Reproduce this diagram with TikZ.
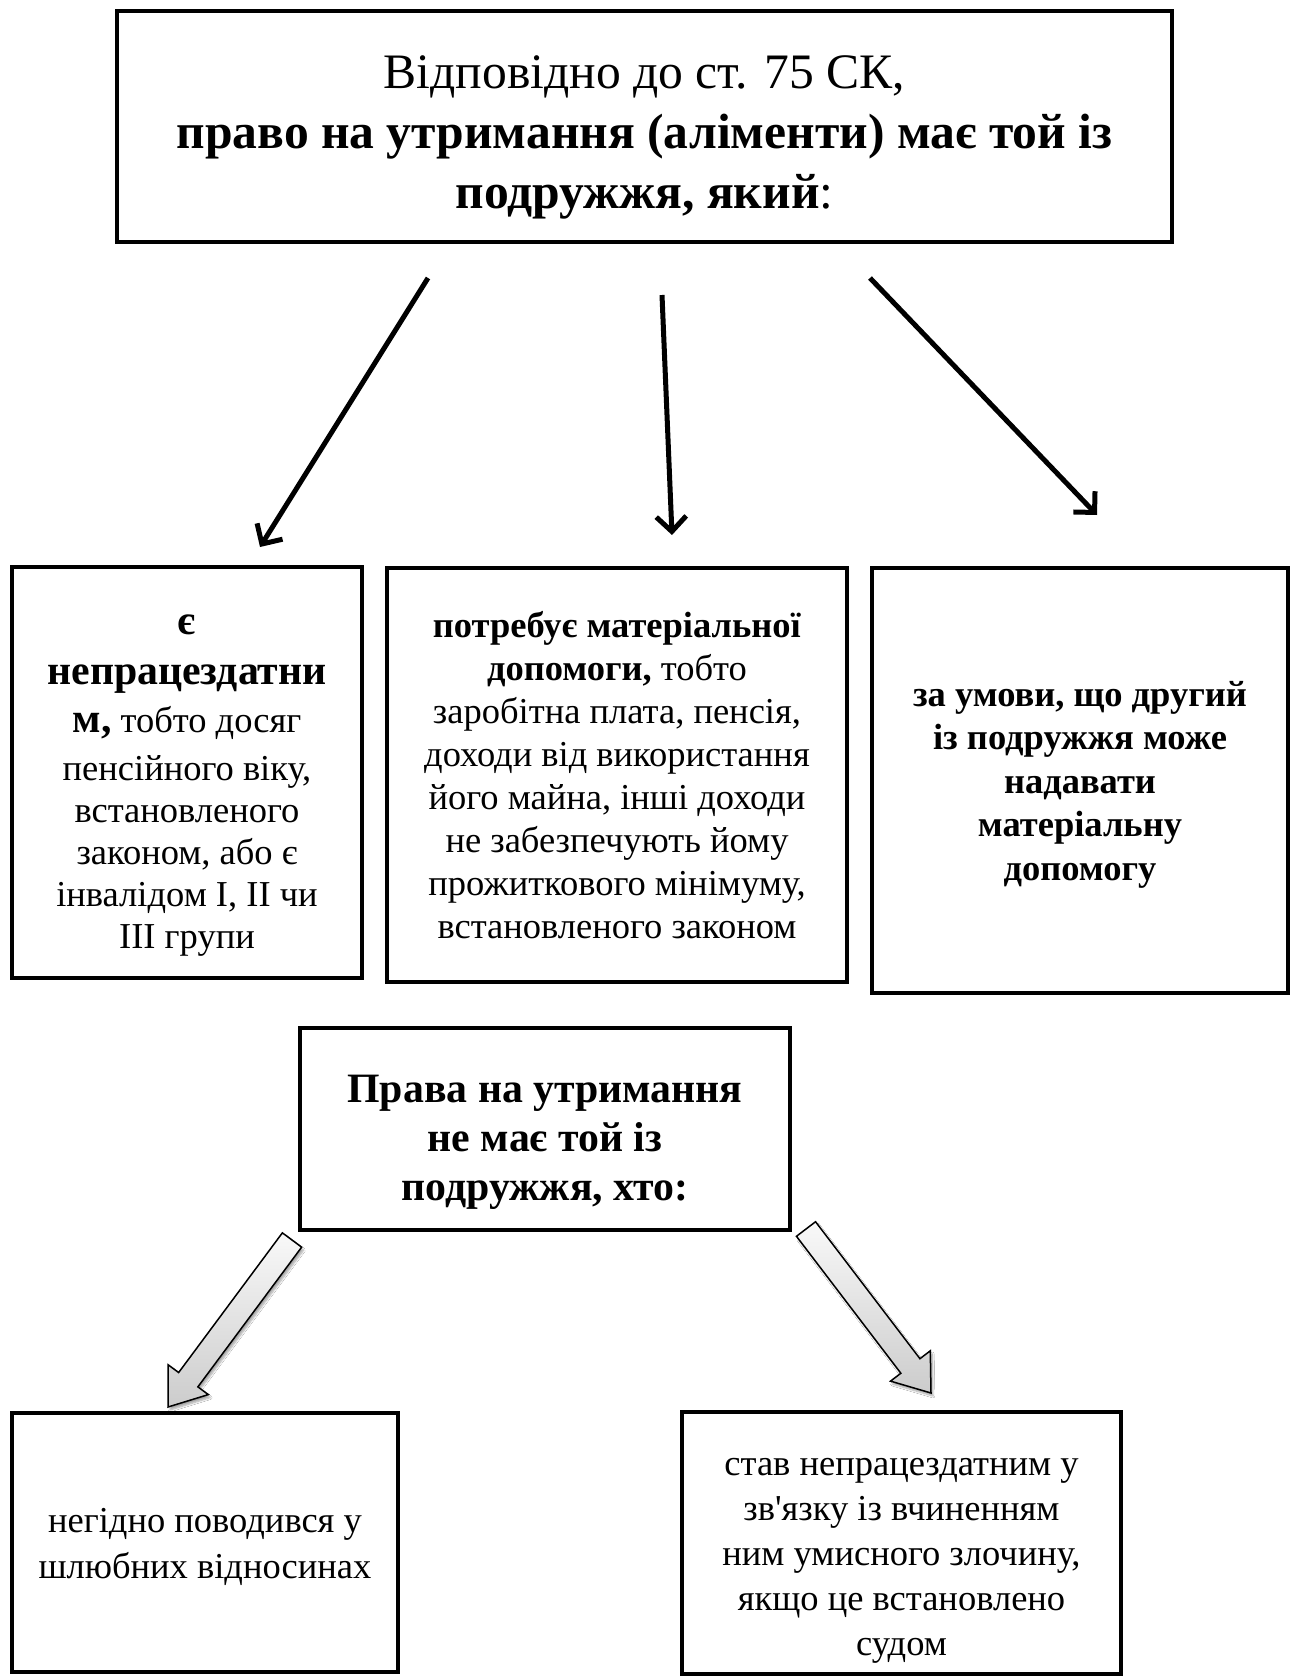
\documentclass[tikz,border=0pt]{standalone}
\usepackage{fontspec}
\setmainfont{Liberation Serif}
\usetikzlibrary{arrows.meta,calc,shadows.blur}
\newcommand\blockarr[2]{%
  \coordinate (#1-h) at ($(#2)!34pt!(#1)$);
  \draw[blockarrow] ($(#1)!12pt!90:(#2)$) -- ($(#1-h)!12pt!90:(#2)$) -- ($(#1-h)!25pt!90:(#2)$) -- (#2)
    -- ($(#1-h)!25pt!-90:(#2)$) -- ($(#1-h)!12pt!-90:(#2)$) -- ($(#1)!12pt!-90:(#2)$) -- cycle;}
\begin{document}
\begin{tikzpicture}[x=1pt,y=-1pt,
  box/.style={draw, line width=4.5pt, inner sep=0pt},
  txt/.style={inner sep=0pt, align=center},
  conn/.style={line width=5pt, -{Straight Barb[length=15pt,width=30pt]}},
  blockarrow/.style={draw=black, line width=1.5pt, top color=gray!5, bottom color=gray!40,
    blur shadow={shadow xshift=2pt, shadow yshift=-3pt, shadow blur steps=6, shadow opacity=35}}
]
\useasboundingbox (0,0) rectangle (1290,1677);
\fill[white] (0,0) rectangle (1290,1677);

% top box
\node[box, minimum width=1055pt, minimum height=231pt] (top) at (644.5,126.5) {};
\node[txt, font=\fontsize{49.6}{60}\selectfont] (ttop) at ($(top.center)+(0,11)$)
  {Відповідно до ст. 75 СК,\\ \textbf{право на утримання (аліменти) має той із}\\ \textbf{подружжя, який}:};

% second row
\node[box, minimum width=350pt, minimum height=411pt] (boxa) at (187,772.5) {};
\node[txt, font=\fontsize{36.5}{42}\selectfont] (ta) at ($(boxa.center)+(0,13)$)
  {{\fontsize{41.8}{49}\selectfont\bfseries є}\\[8pt]
   {\fontsize{41.8}{49}\selectfont\bfseries непрацездатни}\\[6pt]
   {\fontsize{41.8}{49}\selectfont\bfseries м,} тобто досяг\\[6pt]
   пенсійного віку,\\ встановленого\\ законом, або є\\ інвалідом І, ІІ чи\\ ІІІ групи};

\node[box, minimum width=460pt, minimum height=414pt] (boxb) at (617,775) {};
\node[txt, font=\fontsize{36.5}{43}\selectfont] (tb) at (boxb.center)
  {\textbf{потребує матеріальної}\\ \textbf{допомоги,} тобто\\ заробітна плата, пенсія,\\ доходи від використання\\
   його майна, інші доходи\\ не забезпечують йому\\ прожиткового мінімуму,\\ встановленого законом};

\node[box, minimum width=416pt, minimum height=425pt] (boxc) at (1080,780.5) {};
\node[txt, font=\fontsize{36.5}{43.5}\selectfont\bfseries] (tc) at ($(boxc.center)+(0,4)$)
  {за умови, що другий\\ із подружжя може\\ надавати\\ матеріальну\\ допомогу};

% connectors top
\coordinate (a1s) at (428,278); \coordinate (a1t) at (260,547);
\coordinate (a2s) at (662,295); \coordinate (a2t) at (672,535);
\coordinate (a3s) at (870,278); \coordinate (a3t) at (1097,515);
\draw[conn] (a1s) -- (a1t);
\draw[conn] (a2s) -- (a2t);
\draw[conn] (a3s) -- (a3t);

% lower part
\node[box, minimum width=490pt, minimum height=202pt] (boxd) at (545,1129) {};
\node[txt, font=\fontsize{41.8}{49}\selectfont\bfseries] (td) at ($(boxd.center)+(0,13)$)
  {Права на утримання\\ не має той із\\ подружжя, хто:};

\node[box, minimum width=386pt, minimum height=259pt] (boxe) at (205,1542.5) {};
\node[txt, font=\fontsize{36.5}{46}\selectfont] (te) at ($(boxe.center)+(0,4)$)
  {негідно поводився у\\ шлюбних відносинах};

\node[box, minimum width=439pt, minimum height=262pt] (boxf) at (901.5,1543) {};
\node[txt, font=\fontsize{36.5}{45}\selectfont] (tf) at ($(boxf.center)+(0,18)$)
  {став непрацездатним у\\ зв\textquotesingle язку із вчиненням\\ ним умисного злочину,\\ якщо це встановлено\\ судом};

\coordinate (ls) at (292,1240); \coordinate (lt) at (168,1407);
\coordinate (rs) at (806,1229); \coordinate (rt) at (931,1393);
\blockarr{ls}{lt}
\blockarr{rs}{rt}
\end{tikzpicture}
\end{document}
